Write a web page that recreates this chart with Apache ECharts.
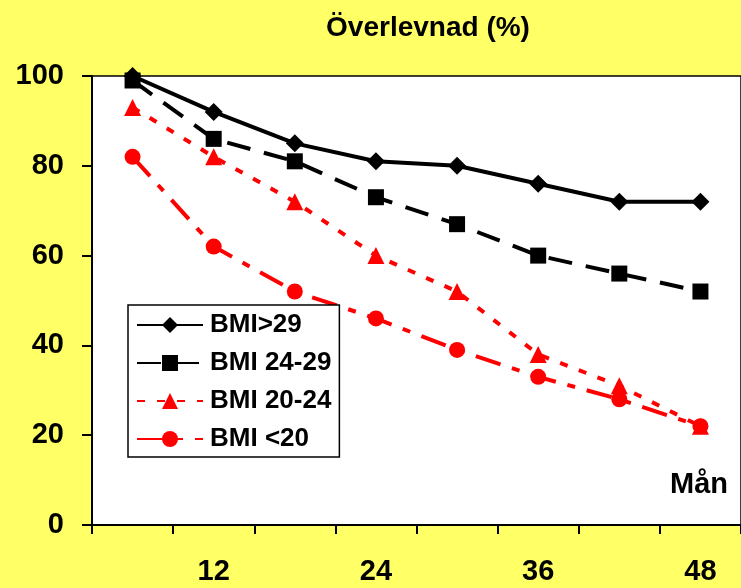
<!DOCTYPE html>
<html><head><meta charset="utf-8">
<script src="https://cdn.jsdelivr.net/npm/echarts@6/dist/echarts.min.js"></script>
<style>html,body{margin:0;padding:0;background:#ffff66}#c{width:741px;height:588px}</style>
</head><body><div id="c"></div>
<script>
const months = ['6','12','18','24','30','36','42','48'];
const seriesNames = ['BMI>29','BMI 24-29','BMI 20-24','BMI <20'];
const bmiOver29 = [100, 92, 85, 81, 80, 76, 72, 72];
const bmi24to29 = [99, 86, 81, 73, 67, 60, 56, 52];
const bmi20to24 = [93, 82, 72, 60, 52, 38, 31, 22];
const bmiUnder20 = [82, 62, 52, 46, 39, 33, 28, 22];
const yTicks = [0, 20, 40, 60, 80, 100];

const FONT = 'Liberation Sans, Arial, sans-serif';
const chart = echarts.init(document.getElementById('c'));
chart.setOption({
  animation: false,
  backgroundColor: '#ffff66',
  title: {
    text: 'Överlevnad (%)', left: 423, top: 9, textAlign: 'center',
    textStyle: {fontFamily: FONT, fontWeight: 'bold', fontSize: 28, color: '#000'}
  },
  grid: {left: 92, top: 76, right: -3, bottom: 63, show: true, backgroundColor: '#fff', borderColor: '#000', borderWidth: 1.5},
  legend: {
    orient: 'vertical', left: 128, top: 305,
    backgroundColor: '#fff', borderColor: '#000', borderWidth: 1.5,
    padding: [7, 8, 5, 8], itemGap: 12, itemWidth: 66, itemHeight: 20,
    data: seriesNames,
    textStyle: {fontFamily: FONT, fontWeight: 'bold', fontSize: 26, color: '#000', padding: [0, 0, 0, 2]}
  },
  xAxis: {
    type: 'category', data: months, boundaryGap: true,
    axisLine: {show: true, lineStyle: {color: '#000', width: 2}},
    axisTick: {show: true, interval: 0, length: 9, lineStyle: {color: '#000', width: 2}},
    axisLabel: {interval: (i) => i % 2 === 1, margin: 32, fontFamily: FONT, fontWeight: 'bold', fontSize: 29, color: '#000'}
  },
  yAxis: {
    type: 'value', min: yTicks[0], max: yTicks[yTicks.length - 1], interval: 20,
    splitLine: {show: false},
    axisLine: {show: true, lineStyle: {color: '#000', width: 2}},
    axisTick: {show: true, length: 10, lineStyle: {color: '#000', width: 2}},
    axisLabel: {margin: 28, fontFamily: FONT, fontWeight: 'bold', fontSize: 29, color: '#000'}
  },
  graphic: [{
    type: 'text', left: 670, top: 470, z: 100,
    style: {text: 'Mån', fontFamily: FONT, fontWeight: 'bold', fontSize: 29, fill: '#000'}
  }],
  series: [
    {name: seriesNames[0], type: 'line', data: bmiOver29, symbol: 'diamond', symbolSize: 18,
     itemStyle: {color: '#000'}, lineStyle: {color: '#000', width: 4, type: 'solid'}, z: 5},
    {name: seriesNames[1], type: 'line', data: bmi24to29, symbol: 'rect', symbolSize: 16,
     itemStyle: {color: '#000'}, lineStyle: {color: '#000', width: 4, type: [24, 14]}, z: 4},
    {name: seriesNames[2], type: 'line', data: bmi20to24, symbol: 'triangle', symbolSize: 17,
     itemStyle: {color: '#ff0000'}, lineStyle: {color: '#ff0000', width: 4, type: [8, 12]}, z: 3},
    {name: seriesNames[3], type: 'line', data: bmiUnder20, symbol: 'circle', symbolSize: 16,
     itemStyle: {color: '#ff0000'}, lineStyle: {color: '#ff0000', width: 4, type: [26, 12, 8, 12]}, z: 2}
  ]
});
</script></body></html>
